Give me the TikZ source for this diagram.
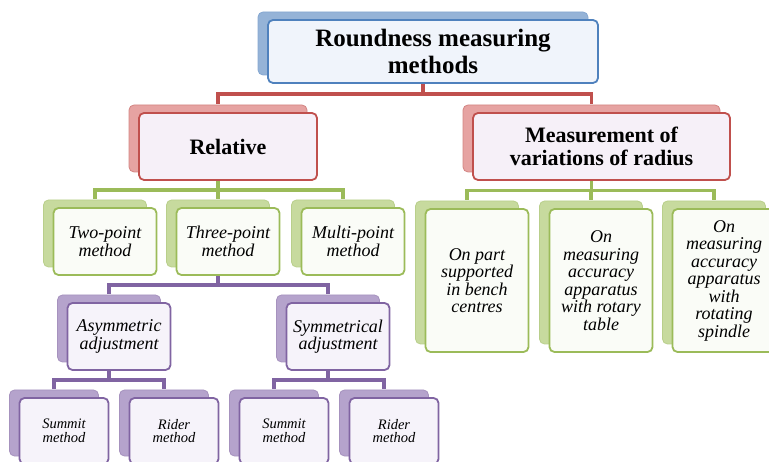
\documentclass[tikz,border=0pt]{standalone}
\usepackage{fontspec}
\setmainfont{Liberation Serif}
\usetikzlibrary{shadows,calc,backgrounds}

\definecolor{bluelc}{HTML}{4F81BD}
\definecolor{bluebk}{HTML}{95B3D7}
\definecolor{bluefr}{HTML}{F0F4FB}
\definecolor{redlc}{HTML}{C0504D}
\definecolor{redbk}{HTML}{E6A3A2}
\definecolor{redfr}{HTML}{F6F0F8}
\definecolor{greenlc}{HTML}{9BBB59}
\definecolor{greenbk}{HTML}{C7DA9E}
\definecolor{greenfr}{HTML}{FAFCF7}
\definecolor{purplelc}{HTML}{8064A2}
\definecolor{purplebk}{HTML}{B5A3CC}
\definecolor{purplefr}{HTML}{F6F3FA}

\begin{document}
\begin{tikzpicture}[x=1pt,y=-1pt,
  smartbox/.style={draw=#1lc, fill=#1fr, line width=1.8pt, rounded corners=5pt,
    inner sep=1pt, align=center,
    copy shadow={shadow xshift=-10pt, shadow yshift=8pt, fill=#1bk, draw=#1lc!70, line width=0.8pt}},
  headtext/.style={font=\fontsize{22}{23.5}\selectfont\bfseries},
  subtext/.style={font=\fontsize{18}{17.5}\selectfont\itshape},
  leaftext/.style={font=\fontsize{14.5}{13.5}\selectfont\itshape},
  link/.style={line width=3.6pt, to path={([xshift=-10pt]\tikztostart.south)
    |- ($([xshift=-10pt]\tikztostart.south)!.5!([shift={(-10pt,8pt)}]\tikztotarget.north)$)
    -| ([shift={(-10pt,8pt)}]\tikztotarget.north)}}]
\useasboundingbox (0,0) rectangle (769,462);
\clip (0,0) rectangle (769,462);

% top
\node[smartbox=blue, minimum width=330pt, minimum height=63pt, font=\fontsize{25}{27}\selectfont\bfseries] (root) at (433,51.5) {Roundness measuring\\methods};

% second level
\node[smartbox=red, headtext, minimum width=178pt, minimum height=67pt] (rel) at (228,146.5) {Relative};
\node[smartbox=red, headtext, minimum width=257pt, minimum height=67pt] (meas) at (601.5,146.5) {Measurement of\\variations of radius};

% relative methods
\node[smartbox=green, subtext, minimum width=103pt, minimum height=67pt] (two) at (105,241.5) {Two-point\\method};
\node[smartbox=green, subtext, minimum width=103pt, minimum height=67pt] (three) at (228,241.5) {Three-point\\method};
\node[smartbox=green, subtext, minimum width=103pt, minimum height=67pt] (multi) at (353,241.5) {Multi-point\\method};

% radius methods
\node[smartbox=green, subtext, minimum width=103pt, minimum height=143pt] (bench) at (477,280.5) {On part\\supported\\in bench\\centres};
\node[smartbox=green, subtext, minimum width=103pt, minimum height=143pt] (table) at (601,280.5) {On\\measuring\\accuracy\\apparatus\\with rotary\\table};
\node[smartbox=green, subtext, minimum width=103pt, minimum height=143pt] (spindle) at (724,280.5) {On\\measuring\\accuracy\\apparatus\\with\\rotating\\spindle};

% adjustments
\node[smartbox=purple, subtext, minimum width=103pt, minimum height=67pt] (asym) at (119,336.5) {Asymmetric\\adjustment};
\node[smartbox=purple, subtext, minimum width=103pt, minimum height=67pt] (sym) at (338,336.5) {Symmetrical\\adjustment};

% leaves
\node[smartbox=purple, leaftext, minimum width=89pt, minimum height=66pt] (summit1) at (64,431) {Summit\\method};
\node[smartbox=purple, leaftext, minimum width=89pt, minimum height=66pt] (rider1) at (174,431) {Rider\\method};
\node[smartbox=purple, leaftext, minimum width=89pt, minimum height=66pt] (summit2) at (284,431) {Summit\\method};
\node[smartbox=purple, leaftext, minimum width=89pt, minimum height=66pt] (rider2) at (394,431) {Rider\\method};

\begin{scope}[on background layer]
\path[draw=redlc, link] (root) to (rel);
\path[draw=redlc, link] (root) to (meas);
\path[draw=greenlc, link] (rel) to (two);
\path[draw=greenlc, link] (rel) to (three);
\path[draw=greenlc, link] (rel) to (multi);
\path[draw=greenlc, link] (meas) to (bench);
\path[draw=greenlc, link] (meas) to (table);
\path[draw=greenlc, link] (meas) to (spindle);
\path[draw=purplelc, link] (three) to (asym);
\path[draw=purplelc, link] (three) to (sym);
\path[draw=purplelc, link] (asym) to (summit1);
\path[draw=purplelc, link] (asym) to (rider1);
\path[draw=purplelc, link] (sym) to (summit2);
\path[draw=purplelc, link] (sym) to (rider2);
\end{scope}
\end{tikzpicture}
\end{document}
